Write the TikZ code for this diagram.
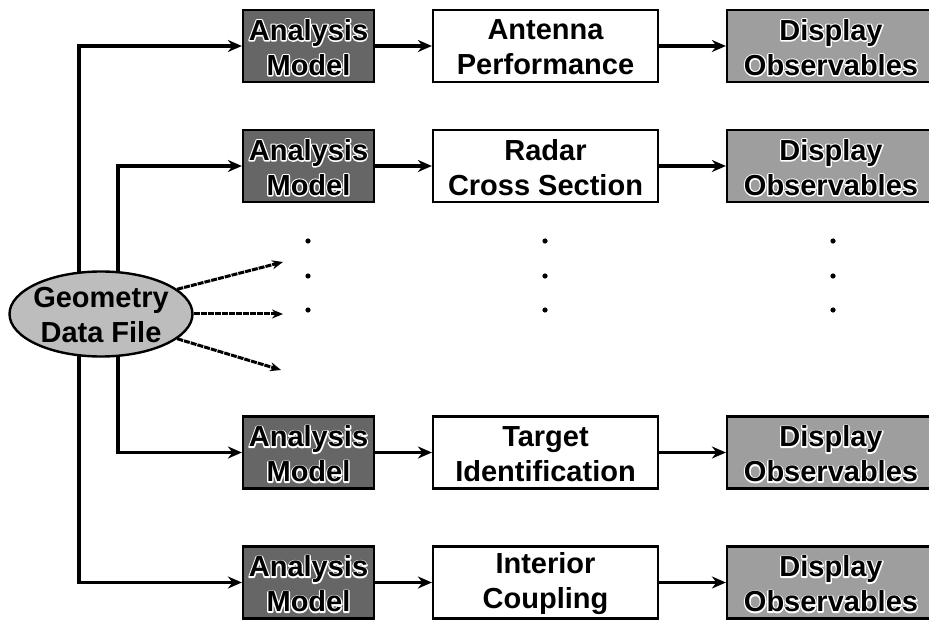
\documentclass[tikz,border=0pt]{standalone}
\usepackage{fontspec}
\setmainfont{Liberation Sans}
\newfontfamily\halofont{Liberation Sans Bold}[FakeBold=9]
\usetikzlibrary{arrows.meta,shapes.geometric,backgrounds}

% label with a white outline, for text on shaded boxes
\newcommand\haloedlabel[2]{%
  \node[halotxt] at (#1) {#2};
  \node[txt] at (#1) {#2};}

\begin{document}
\begin{tikzpicture}[x=1pt,y=-1pt,
  txt/.style={font=\fontsize{29}{35}\selectfont\bfseries, align=center, inner sep=0pt, yshift=-1.5pt},
  halotxt/.style={font=\fontsize{29}{35}\selectfont\halofont, text=white, align=center,
    inner sep=0pt, yshift=-1.5pt, line join=round},
  box/.style={draw=black, line width=2.2pt, inner sep=0pt, minimum height=72pt},
  amodel/.style={box, fill=black!60, minimum width=131pt},
  result/.style={box, fill=white, minimum width=225pt},
  display/.style={box, fill=black!38, minimum width=208pt},
  geofile/.style={ellipse, draw=black, line width=2.4pt, fill=black!26,
    minimum width=183pt, minimum height=85pt, inner sep=0pt},
  link/.style={line width=3.2pt, -{Stealth[length=14pt,width=12pt]}},
  feed/.style={line width=3.2pt, {Stealth[length=14pt,width=12pt]}-{Stealth[length=14pt,width=12pt]}},
  fan/.style={line width=3pt, dash pattern=on 6pt off 1pt, -{Stealth[length=11pt,width=9pt]}},
  dot/.style={fill=black},
]
\useasboundingbox (0,0) rectangle (929,620);

% rows of the chain: analysis model -> result -> display
\node[amodel] (am1) at (308.5,46)  {};
\node[amodel] (am2) at (308.5,166) {};
\node[amodel] (am3) at (308.5,452.5) {};
\node[amodel] (am4) at (308.5,582.5) {};

\node[result] (rs1) at (545.5,46)    {};
\node[result] (rs2) at (545.5,166)   {};
\node[result] (rs3) at (545.5,452.5) {};
\node[result] (rs4) at (545.5,582.5) {};
\node[txt] at (rs1) {Antenna\\Performance};
\node[txt] at (rs2) {Radar\\Cross Section};
\node[txt] at (rs3) {Target\\Identification};
\node[txt] at (rs4) {Interior\\Coupling};

\node[display] (dp1) at (831,46)    {};
\node[display] (dp2) at (831,166)   {};
\node[display] (dp3) at (831,452.5) {};
\node[display] (dp4) at (831,582.5) {};

\foreach \i in {1,...,4}{
  \haloedlabel{am\i}{Analysis\\Model}
  \haloedlabel{dp\i}{Display\\Observables}
  \draw[link] (am\i.east) -- (rs\i.west);
  \draw[link] (rs\i.east) -- (dp\i.west);
}

% source file
\node[geofile] (geo) at (101,314) {};
\node[txt] at (geo) {Geometry\\Data File};

% feeds from the geometry file, running behind the ellipse
\coordinate (k4) at (79,582.5);
\coordinate (k3) at (118,452.5);
\begin{scope}[on background layer]
  \draw[feed] (am1.west) -| (k4) -- (am4.west);
  \draw[feed] (am2.west) -| (k3) -- (am3.west);
\end{scope}

% further, unnamed analyses
\coordinate (f1) at (283,262);
\coordinate (f2) at (283,314);
\coordinate (f3) at (281,370);
\draw[fan] (geo.18)  -- (f1);
\draw[fan] (geo.0)   -- (f2);
\draw[fan] (geo.-18) -- (f3);

\foreach \x in {308,545,833}
  \foreach \y in {241,276,310}
    \fill[dot] (\x,\y) circle (2.6pt);
\end{tikzpicture}
\end{document}
